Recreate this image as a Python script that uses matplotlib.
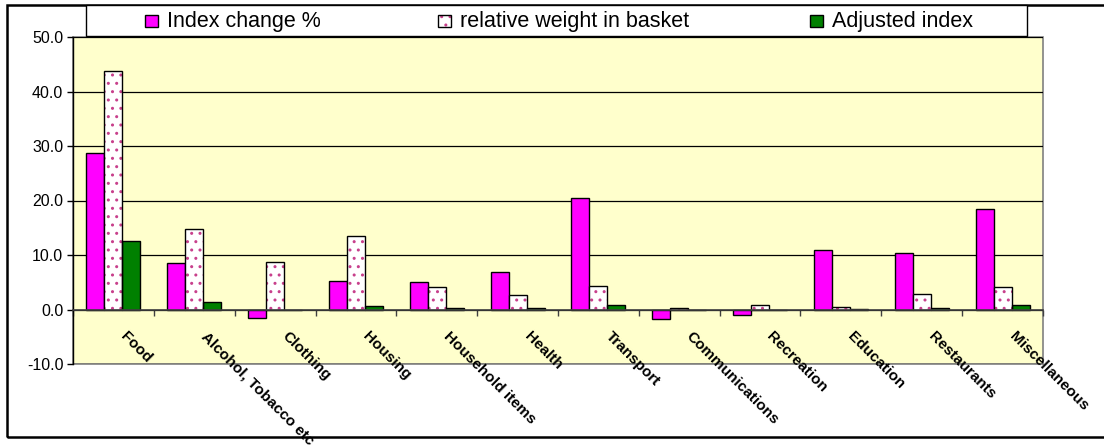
import numpy as np
import matplotlib
matplotlib.use("Agg")
import matplotlib.pyplot as plt
from matplotlib.patches import Rectangle
from matplotlib.transforms import ScaledTranslation

plt.rcParams['font.family'] = ['Liberation Sans', 'DejaVu Sans']
plt.rcParams['hatch.linewidth'] = 1.0

categories = ["Food", "Alcohol, Tobacco etc", "Clothing", "Housing", "Household items",
              "Health", "Transport", "Communications", "Recreation", "Education",
              "Restaurants", "Miscellaneous"]
index_change = [28.7, 8.5, -1.5, 5.3, 5.0, 6.8, 20.4, -1.8, -1.0, 11.0, 10.3, 18.4]
rel_weight = [43.8, 14.8, 8.8, 13.4, 4.1, 2.6, 4.3, 0.3, 0.8, 0.5, 2.8, 4.1]
adjusted = [12.6, 1.3, -0.1, 0.7, 0.2, 0.2, 0.9, 0.0, 0.0, 0.1, 0.3, 0.8]
series_names = ["Index change %", "relative weight in basket", "Adjusted index"]
yticks = [-10, 0, 10, 20, 30, 40, 50]

MAGENTA = '#FF00FF'
GREEN = '#008000'
DOTS = '#C8408C'
BG = '#FFFFCC'

W, H = 1104, 445
fig = plt.figure(figsize=(W / 100, H / 100), dpi=100)

def fx(x):
    return x / W

def fy(y):
    return 1 - y / H

# plot area in pixels: left 73, right 1043, top 37, bottom 364
ax = fig.add_axes([fx(73), fy(364), fx(1043) - fx(73), fy(37) - fy(364)])
ax.set_facecolor(BG)
ax.patch.set_edgecolor('#808080')
ax.patch.set_linewidth(1.2)

x = np.arange(len(categories))
bw = 0.223

ax.bar(x - bw, index_change, bw, color=MAGENTA, edgecolor='black', linewidth=1, zorder=3)
ax.bar(x, rel_weight, bw, color='white', edgecolor=DOTS, hatch='..', linewidth=0, zorder=3)
ax.bar(x, rel_weight, bw, fill=False, edgecolor='black', linewidth=1, zorder=4)
ax.bar(x + bw, adjusted, bw, color=GREEN, edgecolor='black', linewidth=1, zorder=3)

ax.set_xlim(-0.5, len(categories) - 0.5)
ax.set_ylim(-10, 50)
ax.set_yticks(yticks)
ax.set_yticklabels(['%.1f' % v for v in yticks], fontsize=11.5)
ax.yaxis.grid(True, color='black', linewidth=0.9)
ax.set_axisbelow(True)
ax.tick_params(axis='y', direction='out', length=4, width=1, pad=3)

for s in ['top', 'right']:
    ax.spines[s].set_visible(False)
ax.spines['left'].set_color('black')
ax.spines['left'].set_linewidth(1)
ax.spines['bottom'].set_position(('data', 0))
ax.spines['bottom'].set_color('#404040')
ax.spines['bottom'].set_linewidth(1.2)
ax.spines['bottom'].set_zorder(5)
ax.set_xticks(np.arange(-0.5, len(categories), 1))
ax.set_xticklabels([])
ax.tick_params(axis='x', direction='out', length=4, width=1, color='#404040')

off = ScaledTranslation(14 / 100, -20 / 100, fig.dpi_scale_trans)
for xi, name in zip(x, categories):
    ax.text(xi, 0, name, transform=ax.transData + off, rotation=-45,
            rotation_mode='anchor', ha='left', va='top', fontsize=11,
            fontweight='bold', clip_on=False)

# figure border
fig.add_artist(Rectangle((fx(7), fy(437)), fx(1110) - fx(7), fy(5) - fy(437),
                         transform=fig.transFigure, fill=False, edgecolor='black',
                         linewidth=1.8, clip_on=False))

# legend box
fig.add_artist(Rectangle((fx(86), fy(36)), fx(1027) - fx(86), fy(5) - fy(36),
                         transform=fig.transFigure, facecolor='white', edgecolor='black',
                         linewidth=1))

leg_x = [145, 438, 810]
for i, (lx, name) in enumerate(zip(leg_x, series_names)):
    r = (fx(lx), fy(27)), fx(lx + 13) - fx(lx), fy(15) - fy(27)
    if i == 0:
        fig.add_artist(Rectangle(*r, transform=fig.transFigure, facecolor=MAGENTA,
                                 edgecolor='black', linewidth=1))
    elif i == 1:
        fig.add_artist(Rectangle(*r, transform=fig.transFigure, facecolor='white',
                                 edgecolor=DOTS, hatch='..', linewidth=0))
        fig.add_artist(Rectangle(*r, transform=fig.transFigure, fill=False,
                                 edgecolor='black', linewidth=1))
    else:
        fig.add_artist(Rectangle(*r, transform=fig.transFigure, facecolor=GREEN,
                                 edgecolor='black', linewidth=1))
    fig.text(fx(lx + 22), fy(27), name, fontsize=15.5, va='baseline', ha='left')

fig.savefig('out.png', dpi=100)
